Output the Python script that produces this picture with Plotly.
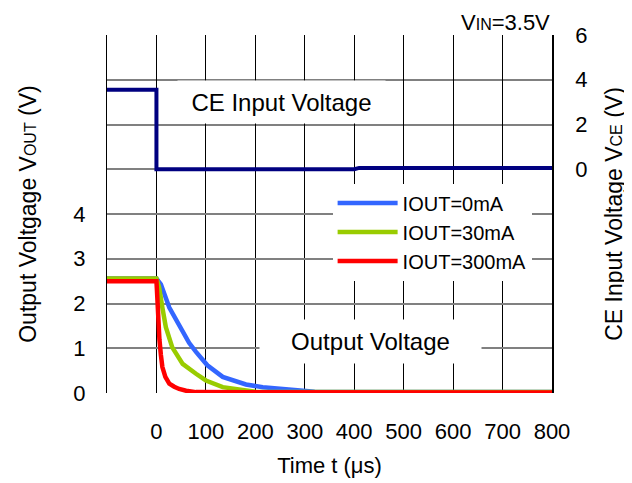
import plotly.graph_objects as go

# ---- data ----
t_ce = [-100, 0, 0, 100, 200, 300, 400, 410, 500, 600, 700, 800]
v_ce = [3.55, 3.55, 0.0, 0.0, 0.0, 0.0, 0.0, 0.06, 0.07, 0.06, 0.07, 0.06]

t_0ma = [-100, 0, 4, 9, 26, 53, 66, 80, 103, 134, 181, 215, 255, 303, 320, 800]
v_0ma = [2.56, 2.56, 2.50, 2.43, 1.91, 1.39, 1.12, 0.92, 0.62, 0.36, 0.19, 0.13, 0.10, 0.06, 0.03, 0.02]

t_30ma = [-100, 0, 3, 5.5, 12, 19, 32, 53, 80, 100, 134, 160, 181, 200, 800]
v_30ma = [2.56, 2.56, 2.45, 2.36, 1.91, 1.47, 1.02, 0.65, 0.43, 0.28, 0.13, 0.09, 0.06, 0.03, 0.02]

t_300ma = [-100, 0, 1, 2, 4, 6, 9, 12, 18, 26, 36, 46, 60, 80, 800]
v_300ma = [2.50, 2.50, 2.30, 2.00, 1.55, 1.20, 0.85, 0.58, 0.36, 0.21, 0.14, 0.09, 0.05, 0.02, 0.01]

x_ticks = [0, 100, 200, 300, 400, 500, 600, 700, 800]
y_left_ticks = [0, 1, 2, 3, 4]
y_right_ticks = [0, 2, 4, 6]

FONT = "Liberation Sans, Arial, sans-serif"
GRID = "#808080"
TICKC = "#333333"
CLEAR = "rgba(0,0,0,0)"

fig = go.Figure()
fig.add_trace(go.Scatter(x=t_ce, y=v_ce, yaxis="y2", mode="lines",
                         line=dict(color="#000080", width=4), showlegend=False,
                         name="CE"))
fig.add_trace(go.Scatter(x=t_0ma, y=v_0ma, mode="lines",
                         line=dict(color="#3366FF", width=4.5), name="IOUT=0mA"))
fig.add_trace(go.Scatter(x=t_30ma, y=v_30ma, mode="lines",
                         line=dict(color="#99CC00", width=4.5), name="IOUT=30mA"))
fig.add_trace(go.Scatter(x=t_300ma, y=v_300ma, mode="lines",
                         line=dict(color="#FF0000", width=4.5), name="IOUT=300mA"))

tick_marks = dict(range=[0, 8], dtick=1, tick0=0, showticklabels=False,
                  showgrid=False, zeroline=False, showline=False,
                  ticks="inside", ticklen=9, tickwidth=2, tickcolor=TICKC)

fig.update_layout(
    width=632, height=483,
    margin=dict(l=99, r=88, t=27, b=98, autoexpand=False),
    paper_bgcolor="white", plot_bgcolor="white",
    font=dict(family=FONT, size=22, color="black"),
    xaxis=dict(range=[-100, 800], tickvals=x_ticks, showgrid=True,
               gridcolor="black", gridwidth=1, zeroline=False, showline=False,
               ticks="", ticklabelstandoff=23,
               tickfont=dict(size=22),
               title=dict(text="Time t (μs)", font=dict(size=22), standoff=14)),
    yaxis=dict(range=[0, 8], tickvals=y_left_ticks,
               showgrid=True, gridcolor=GRID, gridwidth=2, zeroline=False,
               showline=True, linecolor="black", linewidth=1,
               ticks="outside", ticklen=16, tickwidth=1, tickcolor=CLEAR,
               minor=dict(dtick=1, tick0=0, showgrid=True, gridcolor=GRID, gridwidth=2,
                          ticks=""),
               tickfont=dict(size=22),
               title=dict(text="Output Voltgage V<span style='font-size:16px'>OUT</span> (V)",
                          font=dict(size=23), standoff=30)),
    yaxis2=dict(range=[-10, 6], tickvals=y_right_ticks,
                overlaying="y", side="right", showgrid=False,
                zeroline=False,
                showline=True, linecolor="black", linewidth=1.5,
                ticks="outside", ticklen=17, tickwidth=1, tickcolor=CLEAR,
                tickfont=dict(size=22),
                title=dict(text="CE Input Voltage V<span style='font-size:16px'>CE</span> (V)",
                           font=dict(size=23), standoff=19)),
    yaxis3=dict(overlaying="y", side="left", **tick_marks),
    yaxis4=dict(overlaying="y", side="right", **tick_marks),
    legend=dict(x=0.507, y=0.585, xanchor="left", yanchor="top",
                bgcolor="white", borderwidth=0, font=dict(size=20),
                itemwidth=60, tracegroupgap=0),
    annotations=[
        dict(x=253, y=3.0, xref="x", yref="y2", text="CE Input Voltage",
             showarrow=False, font=dict(size=24), bgcolor="white",
             width=205, height=40),
        dict(x=433, y=1.149, xref="x", yref="y", text="Output Voltage",
             showarrow=False, font=dict(size=24), bgcolor="white",
             width=219, height=41),
        dict(x=1.0, y=1.0, xref="paper", yref="paper", xanchor="right", yanchor="bottom",
             text="V<span style='font-size:16px'>IN</span>=3.5V", showarrow=False,
             font=dict(size=22), yshift=-2),
    ],
)

fig.write_html("out.html")
